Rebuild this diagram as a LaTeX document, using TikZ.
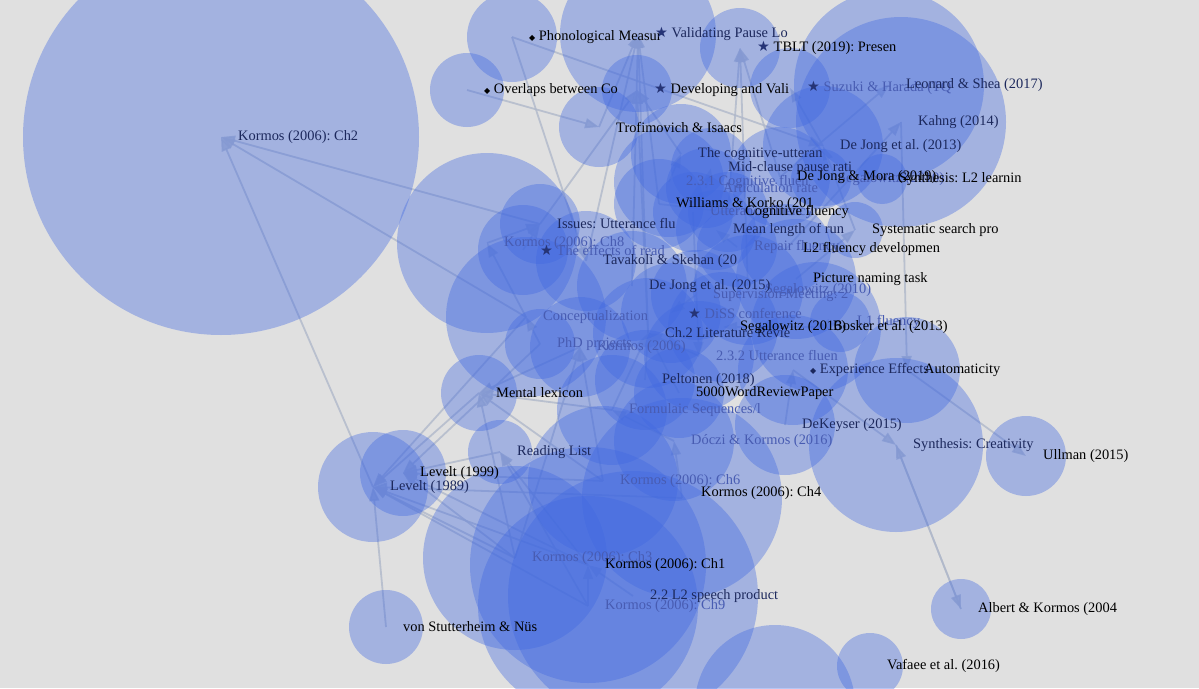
\documentclass[tikz,border=0pt]{standalone}
\usepackage{fontspec}
\setmainfont{Liberation Serif}
\newfontfamily\symfont{DejaVu Sans}
\usetikzlibrary{positioning,arrows.meta}
\definecolor{paper}{RGB}{224,224,224}
\definecolor{bubble}{RGB}{65,105,225}
\definecolor{linkgray}{RGB}{176,184,202}
\definecolor{inkA}{RGB}{28,40,92}
\definecolor{inkB}{RGB}{72,92,178}
\definecolor{starink}{RGB}{38,52,118}
\newcommand{\starmark}{{\symfont\color{starink}★} }
\newcommand{\diamark}{{\symfont\fontsize{8}{8}\selectfont ◆} }
\pgfdeclarelayer{links}
\pgfsetlayers{links,main}
\frenchspacing

\begin{document}
\begin{tikzpicture}[x=1pt,y=-1pt,
    bub/.style={circle, draw=none, fill=bubble, fill opacity=0.38, inner sep=0pt, minimum size=#1*2pt},
    lbl/.style={anchor=west, inner sep=0pt, font=\fontsize{14.4}{16}\selectfont},
    lblA/.style={lbl, text=inkA},
    lblB/.style={lbl, text=inkB},
    link/.style={draw=linkgray, draw opacity=0.8, fill opacity=0.8, line width=1.8pt, -{Triangle[length=14pt,width=10pt]}}]
    \useasboundingbox (0,0) rectangle (1199,688);
    \begin{pgfonlayer}{links}
    \fill[paper] (0,0) rectangle (1199,688);
    \end{pgfonlayer}

    \node[bub=198] (ch2) at (221,137) {};
    \node[bub=37] (overlaps) at (467,90) {};
    \node[bub=45] (phono) at (512,37) {};
    \node[bub=78] (validating) at (638,34) {};
    \node[bub=40] (tblt) at (740,48) {};
    \node[bub=35] (developing) at (637,90) {};
    \node[bub=40] (suzuki) at (790,88) {};
    \node[bub=95] (leonard) at (889,85) {};
    \node[bub=105] (kahng) at (901,122) {};
    \node[bub=60] (dejongA) at (823,146) {};
    \node[bub=40] (trofim) at (599,127) {};
    \node[bub=50] (cogutt) at (681,154) {};
    \node[bub=40] (midclause) at (711,168) {};
    \node[bub=55] (cogfl) at (669,182) {};
    \node[bub=40] (artic) at (706,188) {};
    \node[bub=50] (mora) at (780,177) {};
    \node[bub=30] (segalC) at (821,179) {};
    \node[bub=25] (synthL) at (882,179) {};
    \node[bub=45] (williams) at (659,204) {};
    \node[bub=40] (uttfl) at (693,212) {};
    \node[bub=40] (cogflu) at (728,212) {};
    \node[bub=28] (syst) at (855,230) {};
    \node[bub=40] (meanlen) at (716,230) {};
    \node[bub=40] (repair) at (737,247) {};
    \node[bub=45] (ltwofl) at (786,249) {};
    \node[bub=40] (issues) at (540,224) {};
    \node[bub=90] (ch8) at (487,243) {};
    \node[bub=45] (effects) at (523,250) {};
    \node[bub=50] (tavakoli) at (586,261) {};
    \node[bub=60] (picture) at (796,279) {};
    \node[bub=55] (dejongB) at (632,286) {};
    \node[bub=55] (segalA) at (748,290) {};
    \node[bub=45] (superv) at (696,295) {};
    \node[bub=50] (diss) at (671,313) {};
    \node[bub=80] (concept) at (526,317) {};
    \node[bub=55] (litrev) at (648,333) {};
    \node[bub=55] (segalB) at (723,327) {};
    \node[bub=65] (bosker) at (816,327) {};
    \node[bub=30] (lonefl) at (840,322) {};
    \node[bub=35] (phd) at (540,344) {};
    \node[bub=50] (kormos) at (580,347) {};
    \node[bub=55] (uttflB) at (699,356) {};
    \node[bub=55] (expeff) at (793,370) {};
    \node[bub=53] (automat) at (907,370) {};
    \node[bub=50] (peltonen) at (645,380) {};
    \node[bub=45] (review) at (679,393) {};
    \node[bub=38] (mental) at (479,393) {};
    \node[bub=55] (formulaic) at (612,410) {};
    \node[bub=50] (dekeyser) at (785,425) {};
    \node[bub=60] (doczi) at (674,441) {};
    \node[bub=87] (synth) at (896,445) {};
    \node[bub=32] (reading) at (500,452) {};
    \node[bub=40] (ullman) at (1026,456) {};
    \node[bub=43] (levnine) at (403,473) {};
    \node[bub=55] (leveight) at (373,487) {};
    \node[bub=75] (ch6) at (603,481) {};
    \node[bub=100] (ch4) at (682,498) {};
    \node[bub=92] (ch3) at (515,558) {};
    \node[bub=118] (ch1) at (588,565) {};
    \node[bub=125] (speech) at (633,596) {};
    \node[bub=110] (ch9) at (588,606) {};
    \node[bub=37] (stutt) at (386,627) {};
    \node[bub=30] (albert) at (961,609) {};
    \node[bub=33] (vafaee) at (870,666) {};
    \node[bub=80] (lower) at (775,705) {};

    \begin{pgfonlayer}{links}
    \draw[link] (leveight.center) -- (ch2.center);
    \draw[link] (issues.center) -- (ch2.center);
    \draw[link] (concept.center) -- (ch2.center);
    \draw[link] (stutt.center) -- (leveight.center);
    \draw[link] (ch1.center) -- (leveight.center);
    \draw[link] (ch3.center) -- (leveight.center);
    \draw[link] (ch9.center) -- (leveight.center);
    \draw[link] (ch4.center) -- (leveight.center);
    \draw[link] (mental.center) -- (leveight.center);
    \draw[link] (concept.center) -- (leveight.center);
    \draw[link] (ch6.center) -- (levnine.center);
    \draw[link] (ch1.center) -- (levnine.center);
    \draw[link] (ch3.center) -- (levnine.center);
    \draw[link] (reading.center) -- (levnine.center);
    \draw[link] (phd.center) -- (levnine.center);
    \draw[link] (ch6.center) -- (mental.center);
    \draw[link] (ch3.center) -- (mental.center);
    \draw[link] (formulaic.center) -- (mental.center);
    \draw[link] (kormos.center) -- (mental.center);
    \draw[link] (ch9.center) -- (reading.center);
    \draw[link] (ch1.center) -- (reading.center);
    \draw[link] (overlaps.center) -- (trofim.center);
    \draw[link] (phono.center) -- (dejongA.center);
    \draw[link] (phono.center) -- (tavakoli.center);
    \draw[link] (litrev.center) -- (validating.center);
    \draw[link] (dejongB.center) -- (validating.center);
    \draw[link] (tavakoli.center) -- (validating.center);
    \draw[link] (trofim.center) -- (validating.center);
    \draw[link] (williams.center) -- (validating.center);
    \draw[link] (cogutt.center) -- (developing.center);
    \draw[link] (litrev.center) -- (developing.center);
    \draw[link] (issues.center) -- (developing.center);
    \draw[link] (segalA.center) -- (tblt.center);
    \draw[link] (cogflu.center) -- (tblt.center);
    \draw[link] (mora.center) -- (tblt.center);
    \draw[link] (dejongA.center) -- (suzuki.center);
    \draw[link] (mora.center) -- (leonard.center);
    \draw[link] (ltwofl.center) -- (kahng.center);
    \draw[link] (kahng.center) -- (automat.center);
    \draw[link] (automat.center) -- (ullman.center);
    \draw[link] (synth.center) -- (albert.center);
    \draw[link] (albert.center) -- (synth.center);
    \draw[link] (syst.center) -- (dejongA.center);
    \draw[link] (picture.center) -- (syst.center);
    \draw[link] (expeff.center) -- (synth.center);
    \draw[link] (dekeyser.center) -- (expeff.center);
    \draw[link] (review.center) -- (litrev.center);
    \draw[link] (peltonen.center) -- (litrev.center);
    \draw[link] (formulaic.center) -- (litrev.center);
    \draw[link] (doczi.center) -- (formulaic.center);
    \draw[link] (ch4.center) -- (doczi.center);
    \draw[link] (ch6.center) -- (kormos.center);
    \draw[link] (ch3.center) -- (kormos.center);
    \draw[link] (phd.center) -- (concept.center);
    \draw[link] (effects.center) -- (issues.center);
    \draw[link] (ch8.center) -- (issues.center);
    \draw[link] (concept.center) -- (ch8.center);
    \draw[link] (superv.center) -- (diss.center);
    \draw[link] (bosker.center) -- (segalB.center);
    \draw[link] (lonefl.center) -- (bosker.center);
    \draw[link] (repair.center) -- (meanlen.center);
    \draw[link] (artic.center) -- (midclause.center);
    \draw[link] (cogfl.center) -- (cogutt.center);
    \draw[link] (williams.center) -- (cogflu.center);
    \draw[link] (uttfl.center) -- (uttflB.center);
    \draw[link] (uttflB.center) -- (litrev.center);
    \draw[link] (speech.center) -- (ch1.center);
    \draw[link] (ch9.center) -- (ch1.center);
    \end{pgfonlayer}

    \node[lblA, right=17pt of ch2.center] {Kormos (2006): Ch2};
    \node[lbl, right=17pt of overlaps.center] {\diamark Overlaps between Co};
    \node[lbl, right=17pt of phono.center] {\diamark Phonological Measur};
    \node[lblA, right=17pt of validating.center] {\starmark Validating Pause Lo};
    \node[lbl, right=17pt of tblt.center] {\starmark TBLT (2019): Presen};
    \node[lbl, right=17pt of developing.center] {\starmark Developing and Vali};
    \node[lblB, right=17pt of suzuki.center] {\starmark Suzuki \& Harada (TQ};
    \node[lblA, right=17pt of leonard.center] {Leonard \& Shea (2017)};
    \node[lblA, right=17pt of kahng.center] {Kahng (2014)};
    \node[lblA, right=17pt of dejongA.center] {De Jong et al. (2013)};
    \node[lbl, right=17pt of trofim.center] {Trofimovich \& Isaacs};
    \node[lblA, right=17pt of cogutt.center] {The cognitive-utteran};
    \node[lblA, right=17pt of midclause.center] {Mid-clause pause rati};
    \node[lblB, right=17pt of cogfl.center] {2.3.1 Cognitive fluen};
    \node[lblB, right=17pt of artic.center] {Articulation rate};
    \node[lblB, right=17pt of segalC.center] {Segalowitz (2010)};
    \node[lbl, right=17pt of synthL.center] {Synthesis: L2 learnin};
    \node[lbl, right=17pt of mora.center] {De Jong \& Mora (2019)};
    \node[lbl, right=17pt of williams.center] {Williams \& Korko (201};
    \node[lblB, right=17pt of uttfl.center] {Utterance fluency};
    \node[lbl, right=17pt of cogflu.center] {Cognitive fluency};
    \node[lbl, right=17pt of syst.center] {Systematic search pro};
    \node[lblA, right=17pt of meanlen.center] {Mean length of run};
    \node[lblB, right=17pt of repair.center] {Repair fluency};
    \node[lbl, right=17pt of ltwofl.center] {L2 fluency developmen};
    \node[lblA, right=17pt of issues.center] {Issues: Utterance flu};
    \node[lblB, right=17pt of ch8.center] {Kormos (2006): Ch8};
    \node[lblB, right=17pt of effects.center] {\starmark The effects of read};
    \node[lblA, right=17pt of tavakoli.center] {Tavakoli \& Skehan (20};
    \node[lbl, right=17pt of picture.center] {Picture naming task};
    \node[lblB, right=17pt of segalA.center] {Segalowitz (2010)};
    \node[lblB, right=17pt of superv.center] {Supervision Meeting: 2};
    \node[lblA, right=17pt of dejongB.center] {De Jong et al. (2015)};
    \node[lblB, right=17pt of diss.center] {\starmark DiSS conference};
    \node[lblB, right=17pt of concept.center] {Conceptualization};
    \node[lblA, right=17pt of litrev.center] {Ch.2 Literature Revie};
    \node[lblB, right=17pt of lonefl.center] {L1 fluency};
    \node[lbl, right=17pt of segalB.center] {Segalowitz (2016)};
    \node[lbl, right=17pt of bosker.center] {Bosker et al. (2013)};
    \node[lblB, right=17pt of phd.center] {PhD projects};
    \node[lblB, right=17pt of kormos.center] {Kormos (2006)};
    \node[lblB, right=17pt of uttflB.center] {2.3.2 Utterance fluen};
    \node[lblA, right=17pt of expeff.center] {\diamark Experience Effects};
    \node[lbl, right=17pt of automat.center] {Automaticity};
    \node[lblA, right=17pt of peltonen.center] {Peltonen (2018)};
    \node[lbl, right=17pt of review.center] {5000WordReviewPaper};
    \node[lbl, right=17pt of mental.center] {Mental lexicon};
    \node[lblB, right=17pt of formulaic.center] {Formulaic Sequences/l};
    \node[lblA, right=17pt of dekeyser.center] {DeKeyser (2015)};
    \node[lblB, right=17pt of doczi.center] {Dóczi \& Kormos (2016)};
    \node[lblA, right=17pt of synth.center] {Synthesis: Creativity};
    \node[lblA, right=17pt of reading.center] {Reading List};
    \node[lbl, right=17pt of ullman.center] {Ullman (2015)};
    \node[lbl, right=17pt of levnine.center] {Levelt (1999)};
    \node[lblA, right=17pt of leveight.center] {Levelt (1989)};
    \node[lblB, right=17pt of ch6.center] {Kormos (2006): Ch6};
    \node[lbl, right=19pt of ch4.center, yshift=5pt] {Kormos (2006): Ch4};
    \node[lblB, right=17pt of ch3.center] {Kormos (2006): Ch3};
    \node[lbl, right=17pt of ch1.center] {Kormos (2006): Ch1};
    \node[lblA, right=17pt of speech.center] {2.2 L2 speech product};
    \node[lblB, right=17pt of ch9.center] {Kormos (2006): Ch9};
    \node[lbl, right=17pt of stutt.center] {von Stutterheim \& Nüs};
    \node[lbl, right=17pt of albert.center] {Albert \& Kormos (2004};
    \node[lbl, right=17pt of vafaee.center] {Vafaee et al. (2016)};
\end{tikzpicture}
\end{document}
